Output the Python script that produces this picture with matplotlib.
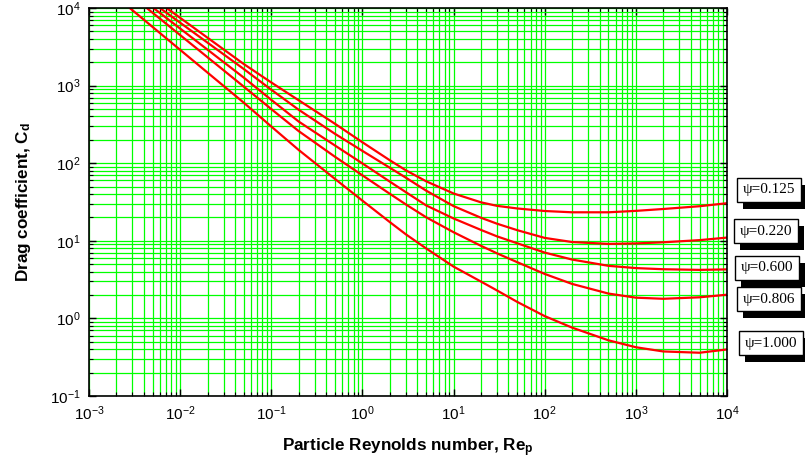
import matplotlib
matplotlib.use("Agg")
import matplotlib.pyplot as plt
from matplotlib.patches import Rectangle
from matplotlib.transforms import IdentityTransform
from matplotlib.ticker import FixedLocator, LogFormatterSciNotation, NullFormatter

plt.rcParams['font.family'] = ['Liberation Sans', 'DejaVu Sans']
plt.rcParams['mathtext.fontset'] = 'custom'
plt.rcParams['mathtext.rm'] = 'Liberation Sans'
plt.rcParams['mathtext.it'] = 'Liberation Sans:italic'
plt.rcParams['mathtext.bf'] = 'Liberation Sans:bold'

# ---- data ----
re_common = [0.05, 0.1, 0.2, 0.5, 1, 2, 3, 5, 10, 20, 30, 50, 100, 200, 500,
             1000, 2000, 5000, 10000]
psi_labels = ["\u03c8=0.125", "\u03c8=0.220", "\u03c8=0.600", "\u03c8=0.806", "\u03c8=1.000"]
re_start = [0.0071, 0.0060, 0.0051, 0.0043, 0.0028]
cd_start = [10000, 10000, 10000, 10000, 10000]
cd_125 = [1893, 1097, 647, 322, 186, 109, 80.9, 58.5, 40.7, 31.3, 28.2, 26.1, 24.2,
          23.3, 23.3, 24.3, 25.7, 27.9, 30.5]
cd_220 = [1633, 885, 488, 239, 144, 87.3, 65.0, 44.3, 28.0, 19.8, 16.6, 13.7, 10.9,
          9.64, 9.12, 9.25, 9.57, 10.2, 11.0]
cd_600 = [1265, 655, 344, 169, 99.3, 57.8, 42.3, 28.6, 19.4, 13.8, 11.4, 9.29, 7.05,
          5.73, 4.76, 4.45, 4.30, 4.22, 4.28]
cd_806 = [968, 498, 259, 121, 69.7, 40.3, 29.4, 20.1, 12.9, 8.61, 6.89, 5.30, 3.74,
          2.78, 2.09, 1.85, 1.79, 1.87, 2.02]
cd_100 = [601, 297, 148, 62.7, 32.9, 17.4, 12.1, 7.98, 4.65, 2.98, 2.29, 1.63, 1.07,
          0.760, 0.522, 0.425, 0.375, 0.361, 0.398]
curves = [cd_125, cd_220, cd_600, cd_806, cd_100]

x_major = [1e-3, 1e-2, 1e-1, 1e0, 1e1, 1e2, 1e3, 1e4]
y_major = [1e-1, 1e0, 1e1, 1e2, 1e3, 1e4]

W, H = 805, 461
fig = plt.figure(figsize=(W / 100, H / 100), dpi=100)
ax = fig.add_axes([89 / W, 1 - 396 / H, (727 - 89) / W, (396 - 8) / H])

ax.set_xscale('log')
ax.set_yscale('log')
ax.set_xlim(x_major[0], x_major[-1])
ax.set_ylim(y_major[0], y_major[-1])

for rs, cs, cd in zip(re_start, cd_start, curves):
    ax.plot([rs] + re_common, [cs] + cd, color='#ff0000', lw=1.6, zorder=3,
            solid_joinstyle='round')

def minors(majors):
    return [m * k for m in majors[:-1] for k in range(2, 10)]

ax.xaxis.set_major_locator(FixedLocator(x_major))
ax.yaxis.set_major_locator(FixedLocator(y_major))
ax.xaxis.set_minor_locator(FixedLocator(minors(x_major)))
ax.yaxis.set_minor_locator(FixedLocator(minors(y_major)))
for axis in (ax.xaxis, ax.yaxis):
    axis.set_major_formatter(LogFormatterSciNotation())
    axis.set_minor_formatter(NullFormatter())

ax.grid(True, which='both', color='#00ff00', lw=0.9, zorder=1)
ax.set_axisbelow(True)
ax.tick_params(which='both', direction='in', top=True, right=True, color='black')
ax.tick_params(which='major', length=5, width=1, labelsize=11, pad=6)
ax.tick_params(which='minor', length=3, width=0.8)
for sp in ax.spines.values():
    sp.set_linewidth(1.2)
    sp.set_color('black')
    sp.set_zorder(5)

ax.set_xlabel(r'Particle Reynolds number, Re$_\mathbf{p}$', fontsize=12.3,
              fontweight='bold', labelpad=10)
ax.set_ylabel(r'Drag coefficient, C$_\mathbf{d}$', fontsize=12.3,
              fontweight='bold', labelpad=12)

# labels with shadow boxes (pixel centres)
label_pos = [(769, 190), (766, 231), (767, 268), (769, 299), (771, 343)]
texts = []
for txt, (px, py) in zip(psi_labels, label_pos):
    t = fig.text(px / W, 1 - py / H, txt, ha='center', va='center',
                 fontsize=11, family=['Liberation Serif', 'DejaVu Serif'], color='black',
                 bbox=dict(boxstyle='square,pad=0.35', fc='white', ec='black', lw=1),
                 zorder=11)
    texts.append(t)

fig.canvas.draw()
renderer = fig.canvas.get_renderer()
for t in texts:
    bb = t.get_bbox_patch().get_window_extent(renderer)
    shadow = Rectangle((bb.x0 + 6, bb.y0 - 7), bb.width, bb.height,
                       transform=IdentityTransform(), fc='black', ec='black',
                       lw=0, zorder=10)
    fig.add_artist(shadow)

fig.savefig('out.png', dpi=100)
